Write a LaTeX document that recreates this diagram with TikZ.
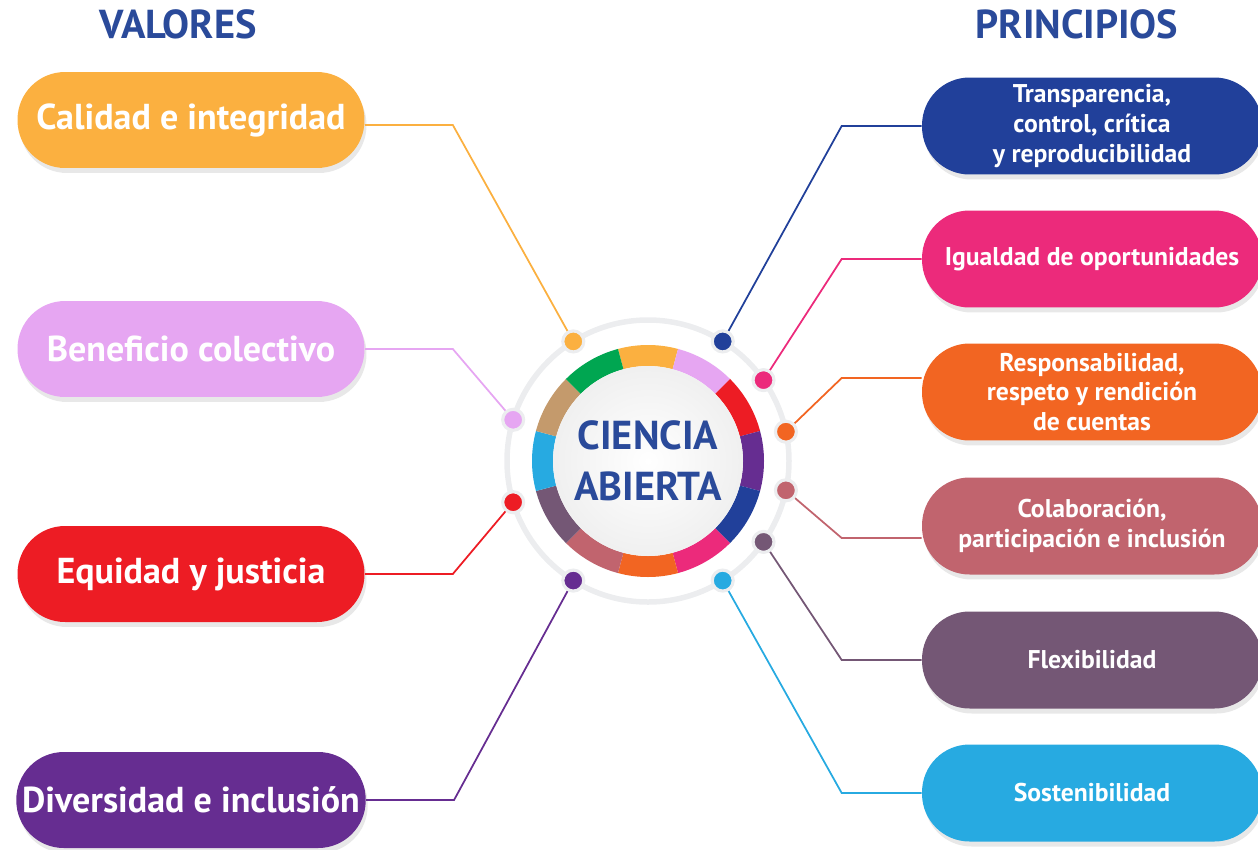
\documentclass[tikz,border=0pt]{standalone}
\usepackage{fontspec}
\setmainfont{PT Sans}
\usetikzlibrary{shadows}

\definecolor{ctitulo}{HTML}{2A4A9A}
\definecolor{canillo}{HTML}{ECEDEF}
\definecolor{cyellow}{HTML}{FBB040}
\definecolor{clav}{HTML}{E6A6F2}
\definecolor{cred}{HTML}{ED1C24}
\definecolor{cpurple}{HTML}{662D91}
\definecolor{cblue}{HTML}{21409A}
\definecolor{cmag}{HTML}{EC2A7B}
\definecolor{corange}{HTML}{F26522}
\definecolor{cmauve}{HTML}{C1646E}
\definecolor{cflex}{HTML}{745775}
\definecolor{ccyan}{HTML}{27AAE1}
\definecolor{ctan}{HTML}{C49A6C}
\definecolor{cgreen}{HTML}{00A651}

\begin{document}
\begin{tikzpicture}[x=0.02cm, y=0.02cm,
    titulo/.style={text=ctitulo, font=\bfseries\fontsize{23}{26}\selectfont},
    valor/.style={fill=#1, rounded corners=0.95cm, minimum width=6.94cm, minimum height=1.92cm,
        text=white, font=\bfseries\fontsize{20.5}{24}\selectfont,
        drop shadow={opacity=0.18, shadow xshift=0.04cm, shadow yshift=-0.1cm}},
    principio/.style={fill=#1, rounded corners=0.95cm, minimum width=6.8cm, minimum height=1.94cm,
        text=white, align=center, font=\bfseries\fontsize{14.6}{17}\selectfont,
        drop shadow={opacity=0.18, shadow xshift=0.04cm, shadow yshift=-0.1cm}},
    punto/.style={circle, fill=#1, draw=canillo, line width=1.8pt, minimum size=0.42cm, inner sep=0pt},
    enlace/.style={draw=#1, line width=1pt}
]
\useasboundingbox (0,0) rectangle (1258,-849);

% titulos
\node[titulo] (valores) at (178,-24) {VALORES};
\node[titulo] (principios) at (1077,-24) {PRINCIPIOS};

% valores
\node[valor=cyellow] (calidad) at (191,-120) {Calidad e integridad};
\node[valor=clav] (beneficio) at (191,-349) {Beneficio colectivo};
\node[valor=cred] (equidad) at (191,-574) {Equidad y justicia};
\node[valor=cpurple] (diversidad) at (191,-800) {Diversidad e inclusión};

% principios
\node[principio=cblue] (transparencia) at (1092,-126) {Transparencia,\\control, crítica\\y reproducibilidad};
\node[principio=cmag] (igualdad) at (1092,-259) {Igualdad de oportunidades};
\node[principio=corange] (responsabilidad) at (1092,-392) {Responsabilidad,\\respeto y rendición\\de cuentas};
\node[principio=cmauve] (colaboracion) at (1092,-526) {Colaboración,\\participación e inclusión};
\node[principio=cflex] (flexibilidad) at (1092,-660) {Flexibilidad};
\node[principio=ccyan] (sostenibilidad) at (1092,-793) {Sostenibilidad};

% anillo central
\coordinate (ctr) at (648,-461);
\draw[canillo, line width=0.11cm] (ctr) circle[radius=141];
\fill[white] (ctr) circle[radius=118];
\foreach \c [count=\i from 0] in {cyellow, clav, cred, cpurple, cblue, cmag, corange, cmauve, cflex, ccyan, ctan, cgreen}{
    \pgfmathsetmacro{\a}{105-30*\i}
    \pgfmathsetmacro{\b}{75-30*\i}
    \fill[\c] ([shift={(ctr)}]\a:116) arc[start angle=\a, end angle=\b, radius=116]
        -- ([shift={(ctr)}]\b:95) arc[start angle=\b, end angle=\a, radius=95] -- cycle;
}
\shade[inner color=white, outer color=gray!12] (ctr) circle[radius=95];
\node[text=ctitulo, align=center, font=\bfseries\fontsize{23}{29}\selectfont] (ciencia) at (ctr) {CIENCIA\\ABIERTA};

% puntos del anillo
\foreach \n/\a in {pcal/122, pben/163, pequ/197, pdiv/238, ptra/58, pigu/35, pres/12, pcol/-12, pfle/-35, psos/-58}
    \coordinate (\n) at ([shift={(ctr)}]\a:141);

\draw[enlace=cyellow] ([yshift=-0.1cm]calidad.east) -- ++(88,0) -- (pcal);
\draw[enlace=clav] (beneficio.east) -- ++(88,0) -- (pben);
\draw[enlace=cred] (equidad.east) -- ++(88,0) -- (pequ);
\draw[enlace=cpurple] (diversidad.east) -- ++(88,0) -- (pdiv);
\draw[enlace=cblue] (transparencia.west) -- ++(-80,0) -- (ptra);
\draw[enlace=cmag] (igualdad.west) -- ++(-80,0) -- (pigu);
\draw[enlace=corange] ([yshift=0.28cm]responsabilidad.west) -- ++(-80,0) -- (pres);
\draw[enlace=cmauve] ([yshift=-0.24cm]colaboracion.west) -- ++(-80,0) -- (pcol);
\draw[enlace=cflex] (flexibilidad.west) -- ++(-80,0) -- (pfle);
\draw[enlace=ccyan] (sostenibilidad.west) -- ++(-80,0) -- (psos);

\foreach \n/\c in {pcal/cyellow, pben/clav, pequ/cred, pdiv/cpurple, ptra/cblue, pigu/cmag, pres/corange, pcol/cmauve, pfle/cflex, psos/ccyan}
    \node[punto=\c] at (\n) {};
\end{tikzpicture}
\end{document}
